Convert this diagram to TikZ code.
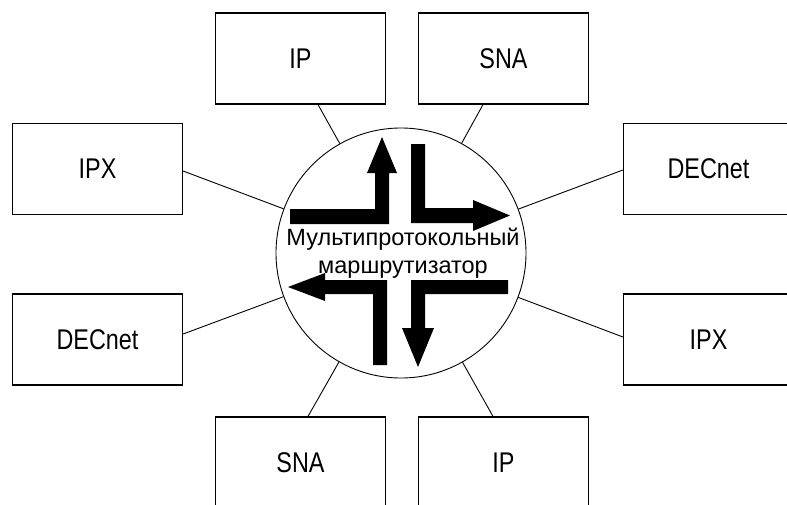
\documentclass[tikz,border=0pt]{standalone}
\usepackage{fontspec}
\setmainfont{Liberation Sans}
\newfontfamily\narrowfont{Liberation Sans}[FakeStretch=0.82]
\usepackage{tikz}

\begin{document}
\begin{tikzpicture}[x=1pt,y=-1pt,
    proto/.style={rectangle, draw, line width=1.2pt, minimum width=170pt, minimum height=91pt,
                  inner sep=0pt, font=\narrowfont\fontsize{28.5pt}{30pt}\selectfont},
    link/.style={line width=0.9pt}]
    \clip (0,0) rectangle (787,504);

    % Nodes
    \node[circle, draw, line width=0.9pt, minimum size=250pt, inner sep=0pt] (router) at (401,253) {};
    \node[align=center, font=\fontsize{23.5pt}{28pt}\selectfont] (routername) at (403,253)
        {Мультипротокольный\\маршрутизатор};

    \node[proto] (ipT) at (300.5,58.5) {IP};
    \node[proto] (snaT) at (503.5,58.5) {SNA};
    \node[proto] (ipxL) at (97.5,169) {IPX};
    \node[proto] (decL) at (97.5,339.5) {DECnet};
    \node[proto] (decR) at (708.5,169) {DECnet};
    \node[proto] (ipxR) at (708.5,339.5) {IPX};
    \node[proto] (snaB) at (300.5,462.5) {SNA};
    \node[proto] (ipB) at (503.5,462.5) {IP};

    % Edges
    \draw[link] ([xshift=17.5pt]ipT.south) -- (router);
    \draw[link] ([xshift=-20.5pt]snaT.south) -- (router);
    \draw[link] ([yshift=-2pt]ipxL.east) -- (router);
    \draw[link] ([yshift=5.5pt]decL.east) -- (router);
    \draw[link] ([yshift=-1pt]decR.west) -- (router);
    \draw[link] ([yshift=2.5pt]ipxR.west) -- (router);
    \draw[link] ([xshift=7.5pt]snaB.north) -- (router);
    \draw[link] ([xshift=-10.5pt]ipB.north) -- (router);

    % Arrows
    \fill (290,224) -- (290,209) -- (375,209) -- (375,173) -- (367,173) -- (382,137)
        -- (397,173) -- (389,173) -- (389,224) -- cycle;
    \fill (411,144) -- (425,144) -- (425,208) -- (473,208) -- (473,200) -- (510,215.5)
        -- (473,231) -- (473,223) -- (411,223) -- cycle;
    \fill (387,365) -- (373,365) -- (373,294) -- (325,294) -- (325,301) -- (288,287)
        -- (325,273) -- (325,280) -- (387,280) -- cycle;
    \fill (508,280) -- (508,294) -- (425,294) -- (425,328) -- (434,328) -- (418,367)
        -- (402,328) -- (411,328) -- (411,280) -- cycle;
\end{tikzpicture}
\end{document}
